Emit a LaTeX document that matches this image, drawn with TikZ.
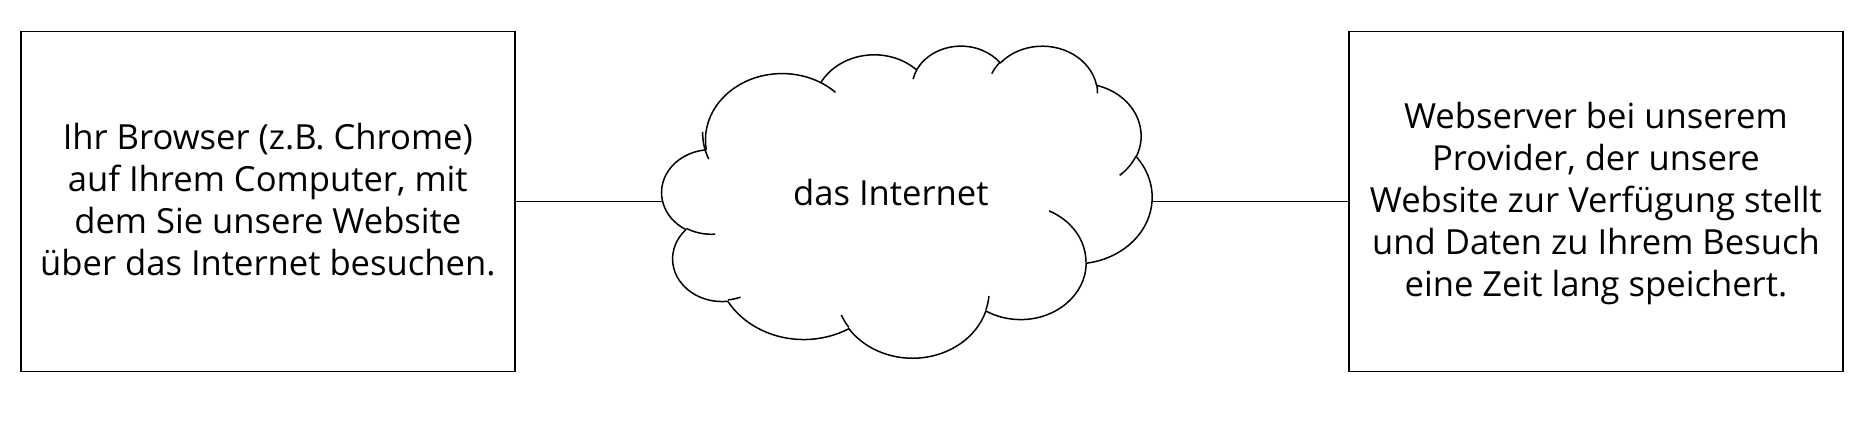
\documentclass[tikz,border=0pt]{standalone}
\usepackage{fontspec}
\setmainfont{Open Sans}
\usepackage{tikz}
\usetikzlibrary{positioning,calc}

\newcommand{\linestrut}{\rule[-5.25pt]{0pt}{21pt}}

\tikzset{
  txt/.style={font=\fontsize{17.3pt}{21pt}\selectfont},
  box/.style={draw, line width=0.9pt, minimum width=246.85pt, minimum height=170pt, inner sep=0pt, align=center, txt},
  cloudbox/.style={minimum width=245pt, minimum height=156pt, inner sep=0pt},
  cloudline/.style={line width=0.75pt, line join=round},
  link/.style={line width=0.9pt}
}

\begin{document}
\begin{tikzpicture}
      \useasboundingbox (0,0) rectangle (935pt,220.5pt);

      % nodes
      \node[box] (browser) at (133.9pt,119.75pt) {\linestrut Ihr Browser (z.B. Chrome)\\auf Ihrem Computer, mit\\dem Sie unsere Website\\über das Internet besuchen.\linestrut};
      \node[cloudbox, right=73.2pt of browser, label={[txt, xshift=-8.25pt, yshift=4.6pt]center:das Internet}] (internet) {};
      \node[box, right=97.7pt of internet] (webserver) {\linestrut Webserver bei unserem\\Provider, der unsere\\Website zur Verfügung stellt\\und Daten zu Ihrem Besuch\\eine Zeit lang speichert.\linestrut};

      % cloud (outline and inner puffs)
      \begin{scope}[shift={(internet.north west)}, x=5.6713pt, y=-3.6111pt]
        \draw[cloudline] (3.900,14.370)
          \foreach \rx/\ry/\st/\sw [evaluate=\st as \ta using {atan2(\rx*sin(\st),\ry*cos(\st))},
                                    evaluate=\sw as \tb using {atan2(\rx*sin(\st+\sw),\ry*cos(\st+\sw))}] in
            {6.753/9.190/-190.4875/123.7805, 5.333/7.267/-144.1024/89.9452,
             4.365/5.945/-145.8079/99.7230, 4.857/6.595/-130.9861/117.2417,
             5.333/7.273/-78.7089/109.0269, 6.775/9.220/-46.2673/130.2690,
             5.785/7.867/0.6250/114.0333, 6.752/9.215/22.4516/115.1726,
             7.720/10.543/66.2426/75.7110, 4.360/5.918/-274.9421/146.7356,
             4.345/5.945/-246.8285/152.5189}
          { arc[start angle=\ta, delta angle={\tb-\ta+360*(\tb<\ta)}, x radius=\rx, y radius=\ry] } -- cycle;
        \foreach \px/\py/\rx/\ry/\st/\sw [evaluate=\st as \ta using {atan2(\rx*sin(\st),\ry*cos(\st))},
                                          evaluate=\sw as \tb using {atan2(\rx*sin(\st+\sw),\ry*cos(\st+\sw))}] in
            {4.693/26.177/4.345/5.945/86.7420/26.4295, 6.928/34.899/4.360/5.918/73.6105/11.4475,
             16.478/39.090/6.752/9.215/137.6242/14.0811, 28.827/34.751/6.752/9.215/6.4533/15.9984,
             34.129/22.954/5.785/7.867/-70.2924/70.9174, 41.798/15.354/5.333/7.273/30.3180/27.7515,
             38.324/5.426/4.857/6.595/-13.7443/14.8589, 29.078/3.952/4.857/6.595/-149.1815/18.1954,
             22.141/4.720/4.365/5.945/-163.4943/17.6864, 14.000/5.192/6.753/9.190/-66.7070/12.3194,
             4.127/15.789/6.753/9.190/150.0000/31.4595}
          \draw[cloudline] (\px,\py) arc[start angle=\ta, delta angle={\tb-\ta+360*(\tb<\ta)}, x radius=\rx, y radius=\ry];
      \end{scope}

      % edges
      \draw[link] (browser) -- (internet);
      \draw[link] (internet) -- (webserver);

\end{tikzpicture}
\end{document}
